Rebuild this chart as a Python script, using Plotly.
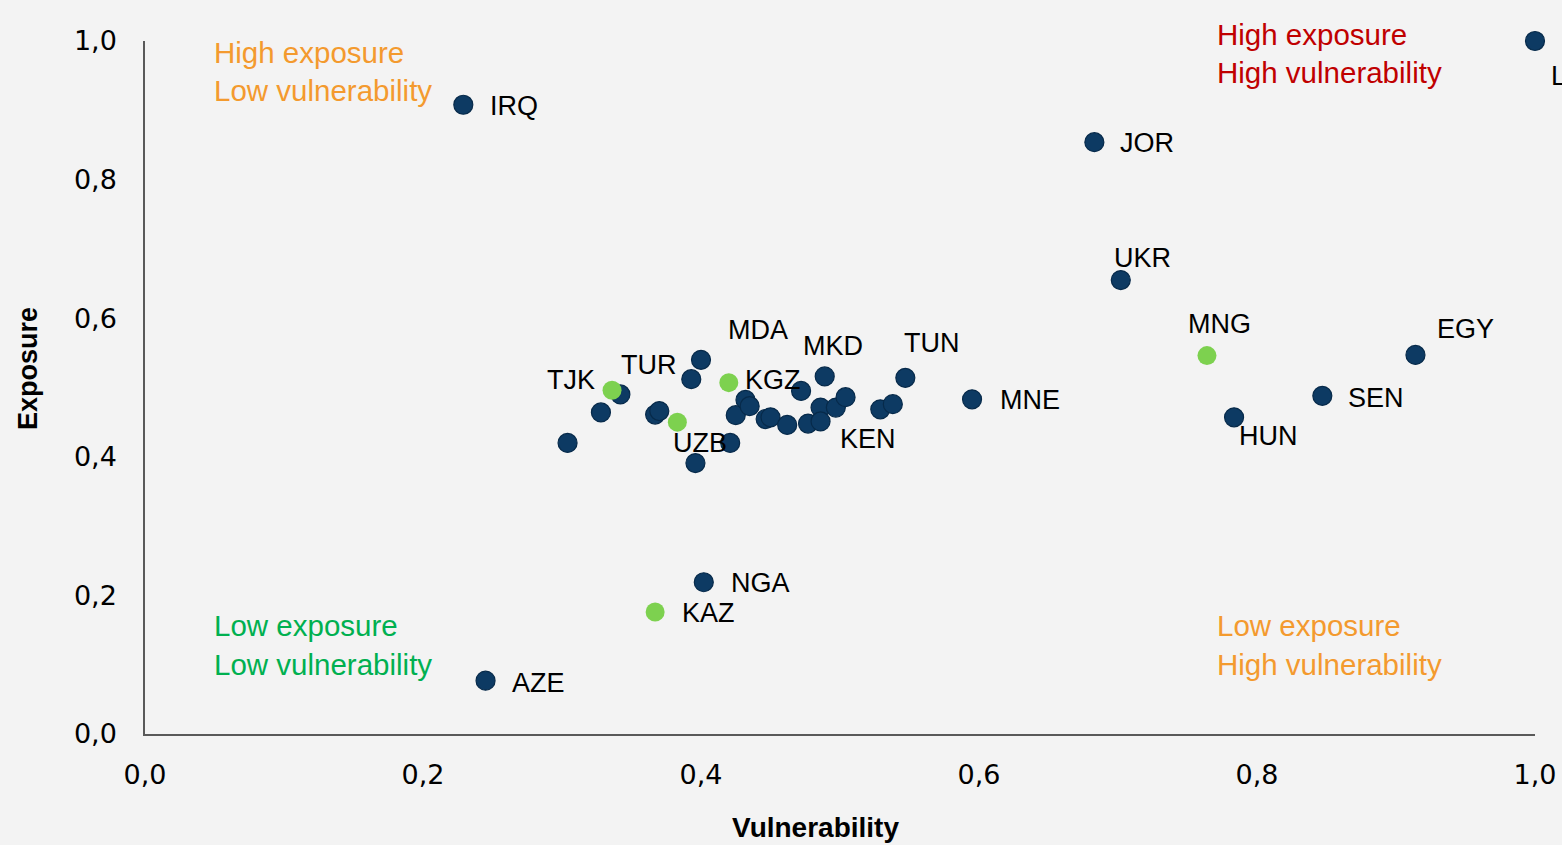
import plotly.graph_objects as go

# ---- data ----
countries = ["IRQ", "AZE", "", "", "TJK", "", "", "", "UZB", "TUR", "MDA", "",
             "KAZ", "NGA", "", "KGZ", "", "", "", "", "", "", "", "", "",
             "KEN", "MKD", "", "", "", "", "TUN", "MNE", "JOR", "UKR", "MNG",
             "HUN", "SEN", "EGY", "LBN"]
vulnerability = [0.229, 0.245, 0.304, 0.328, 0.336, 0.342, 0.367, 0.370, 0.383, 0.393, 0.400, 0.396,
                 0.367, 0.402, 0.421, 0.420, 0.425, 0.432, 0.435, 0.4465, 0.450, 0.462, 0.472, 0.477, 0.486,
                 0.486, 0.489, 0.497, 0.504, 0.529, 0.538, 0.547, 0.595, 0.683, 0.702, 0.764,
                 0.7835, 0.847, 0.914, 1.000]
exposure = [0.908, 0.077, 0.420, 0.464, 0.496, 0.490, 0.461, 0.466, 0.450, 0.512, 0.540, 0.391,
            0.176, 0.219, 0.420, 0.507, 0.460, 0.482, 0.473, 0.4545, 0.457, 0.446, 0.495, 0.448, 0.471,
            0.451, 0.516, 0.471, 0.486, 0.4685, 0.476, 0.514, 0.483, 0.854, 0.655, 0.546,
            0.457, 0.488, 0.547, 1.000]
highlight = [False, False, False, False, True, False, False, False, True, False, False, False,
             True, False, False, True, False, False, False, False, False, False, False, False, False,
             False, False, False, False, False, False, False, False, False, False, True,
             False, False, False, False]

x_ticks = [0.0, 0.2, 0.4, 0.6, 0.8, 1.0]
y_ticks = [0.0, 0.2, 0.4, 0.6, 0.8, 1.0]

quadrant_lines = [
    ("High exposure", "Low vulnerability", "#F39A2E", "tl"),
    ("High exposure", "High vulnerability", "#C00000", "tr"),
    ("Low exposure", "Low vulnerability", "#00B050", "bl"),
    ("Low exposure", "High vulnerability", "#F39A2E", "br"),
]

# ---- styles ----
BLUE = "#0D3A63"
GREEN = "#7DD14F"
BG = "#F3F3F3"
FONT = "Liberation Sans, Arial, sans-serif"

# label placement: (xanchor, xshift, yshift) in px
label_pos = {
    "IRQ": ("left", 25, -1), "AZE": ("left", 24, -2), "TJK": ("right", -15, 10),
    "UZB": ("left", -6, -21), "TUR": ("right", -12, 14), "MDA": ("left", 25, 30),
    "KAZ": ("left", 25, -1), "NGA": ("left", 25, -1), "KGZ": ("left", 14, 3),
    "KEN": ("left", 17, -18), "MKD": ("center", 8, 30), "TUN": ("left", -3, 35),
    "MNE": ("left", 26, -1), "JOR": ("left", 24, -1), "UKR": ("left", -9, 22),
    "MNG": ("left", -21, 32), "HUN": ("left", 3, -19), "SEN": ("left", 24, -2),
    "EGY": ("left", 20, 26), "LBN": ("left", 14, -35),
}
quad_pos = {"tl": (0.048, 0.984, 0.928), "tr": (0.770, 1.010, 0.955),
            "bl": (0.048, 0.156, 0.0996), "br": (0.770, 0.156, 0.0996)}

fig = go.Figure()

bx = [v for v, h in zip(vulnerability, highlight) if not h]
by = [e for e, h in zip(exposure, highlight) if not h]
gx = [v for v, h in zip(vulnerability, highlight) if h]
gy = [e for e, h in zip(exposure, highlight) if h]

fig.add_trace(go.Scatter(x=bx, y=by, mode="markers", cliponaxis=False,
                         marker=dict(size=19, color=BLUE, line=dict(width=1.2, color="#072a4a")),
                         hoverinfo="skip", showlegend=False))
fig.add_trace(go.Scatter(x=gx, y=gy, mode="markers", cliponaxis=False,
                         marker=dict(size=19, color=GREEN, line=dict(width=0)),
                         hoverinfo="skip", showlegend=False))

annotations = []
for name, vx, ey in zip(countries, vulnerability, exposure):
    if not name:
        continue
    xa, xs, ys = label_pos[name]
    annotations.append(dict(x=vx, y=ey, xref="x", yref="y", text=name, showarrow=False,
                            xanchor=xa, yanchor="middle", xshift=xs, yshift=ys,
                            font=dict(family=FONT, size=27, color="#000000")))

for l1, l2, col, key in quadrant_lines:
    qx, qy1, qy2 = quad_pos[key]
    for txt, qy in ((l1, qy1), (l2, qy2)):
        annotations.append(dict(x=qx, y=qy, xref="paper", yref="paper", text=txt,
                                showarrow=False, xanchor="left", yanchor="middle",
                                font=dict(family=FONT, size=29.5, color=col)))

annotations.append(dict(x=-0.0842, y=0.528, xref="paper", yref="paper", text="<b>Exposure</b>",
                        textangle=-90, showarrow=False, xanchor="center", yanchor="middle",
                        font=dict(family=FONT, size=27, color="#000000")))
annotations.append(dict(x=0.4827, y=-0.1356, xref="paper", yref="paper", text="<b>Vulnerability</b>",
                        showarrow=False, xanchor="center", yanchor="middle",
                        font=dict(family=FONT, size=28, color="#000000")))

fig.update_layout(
    width=1562, height=845,
    margin=dict(l=145, r=27, t=41, b=111, autoexpand=False),
    paper_bgcolor=BG, plot_bgcolor=BG,
    separators=",.",
    annotations=annotations,
    xaxis=dict(range=[0, 1], tickvals=x_ticks, tickformat=".1f", showgrid=False, zeroline=False,
               showline=True, linecolor="#595959", linewidth=1.5, ticks="", automargin=False,
               ticklabelstandoff=16,
               tickfont=dict(family="DejaVu Sans, sans-serif", size=27, color="#000000")),
    yaxis=dict(range=[0, 1], tickvals=y_ticks, tickformat=".1f", showgrid=False, zeroline=False,
               showline=True, linecolor="#595959", linewidth=1.5, ticks="", automargin=False,
               ticklabelstandoff=21,
               tickfont=dict(family="DejaVu Sans, sans-serif", size=27, color="#000000")),
)

fig.write_html("out.html", config={"displayModeBar": False},
               post_script="document.body.style.margin='0';document.body.style.overflow='hidden';")
